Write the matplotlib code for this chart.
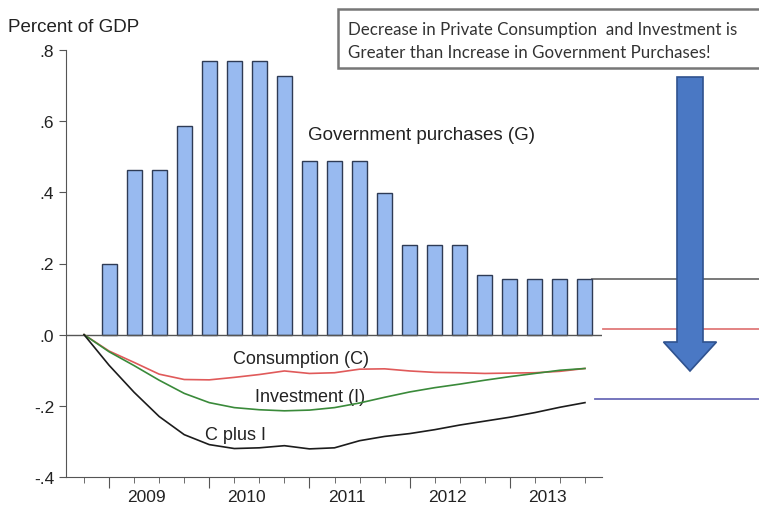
import numpy as np
import matplotlib.pyplot as plt
from matplotlib.patches import Rectangle, FancyArrow

# quarterly data, 2008Q4 = index 0 ... 2013Q4 = index 20
years = ["2009", "2010", "2011", "2012", "2013"]
gov = [0.198, 0.464, 0.464, 0.587,
       0.768, 0.768, 0.768, 0.727,
       0.487, 0.487, 0.487, 0.399,
       0.251, 0.251, 0.251, 0.167,
       0.156, 0.156, 0.156, 0.156]
cons = [0.0, -0.046, -0.078, -0.111, -0.126, -0.127, -0.120, -0.112, -0.102,
        -0.109, -0.107, -0.097, -0.096, -0.102, -0.106, -0.107, -0.109,
        -0.108, -0.107, -0.103, -0.095]
inv = [0.0, -0.048, -0.087, -0.128, -0.165, -0.191, -0.205, -0.211, -0.214,
       -0.212, -0.205, -0.192, -0.176, -0.161, -0.149, -0.139, -0.128,
       -0.118, -0.109, -0.100, -0.095]
cpi = [0.0, -0.086, -0.162, -0.230, -0.281, -0.309, -0.320, -0.318, -0.312,
       -0.321, -0.318, -0.298, -0.286, -0.278, -0.267, -0.254, -0.243,
       -0.232, -0.219, -0.204, -0.191]
yticks = [0.8, 0.6, 0.4, 0.2, 0.0, -0.2, -0.4]
ytick_labels = [".8", ".6", ".4", ".2", ".0", "-.2", "-.4"]
side_levels = [gov[-1], 0.017, -0.181]
side_colors = ["#6e6e6e", "#e07a7a", "#6a6ab8"]

plt.rcParams['font.family'] = ['Liberation Sans', 'DejaVu Sans']

fig = plt.figure(figsize=(7.59, 5.10), dpi=100)
ax = fig.add_axes([66/759, 1-478/510, (602-66)/759, (478-51)/510])

q = np.arange(len(cons))
ax.bar(q[1:], gov, width=0.6, color="#98baf0", edgecolor="#2e3b55", linewidth=1, zorder=2)
ax.axhline(0, color="#555555", lw=1, zorder=3)
ax.plot(q, cons, color="#e05a5a", lw=1.2, zorder=4)
ax.plot(q, inv, color="#3a8a3a", lw=1.2, zorder=4)
ax.plot(q, cpi, color="#1c1c1c", lw=1.2, zorder=4)

ax.set_xlim(-0.72, 20.68)
ax.set_ylim(-0.4, 0.8)
for s in ["top", "right"]:
    ax.spines[s].set_visible(False)
for s in ["left", "bottom"]:
    ax.spines[s].set_color("#555555")

ax.set_yticks(yticks)
ax.set_yticklabels(ytick_labels, fontsize=12.5, color="#222222")
ax.set_xticks(np.arange(1, 21, 4))
ax.set_xticks(q, minor=True)
ax.set_xticklabels([])
ax.tick_params(axis="x", which="major", length=8, color="#555555")
ax.tick_params(axis="x", which="minor", length=4, color="#555555")
ax.tick_params(axis="y", length=5, color="#555555")
for k, yr in enumerate(years):
    ax.text(2.5 + 4 * k, -0.045, yr, transform=ax.get_xaxis_transform(),
            ha="center", va="center", fontsize=12.5, color="#222222")

# series labels
ax.text(8.94, 0.562, "Government purchases (G)", fontsize=13.5, color="#222222", va="center")
ax.text(5.95, -0.068, "Consumption (C)", fontsize=13, color="#222222", va="center")
ax.text(6.83, -0.174, "Investment (I)", fontsize=13, color="#222222", va="center")
ax.text(4.83, -0.281, "C plus I", fontsize=13, color="#222222", va="center")

fig.text(8/759, 1-28/510, "Percent of GDP", fontsize=13.5, color="#222222", va="center")

# lines running off to the right
starts = [20.3, 20.7, 20.4]
for lev, c, x0 in zip(side_levels, side_colors, starts):
    ax.plot([x0, 30], [lev, lev], color=c, lw=1.3, clip_on=False, zorder=1)

# message box
fig.add_artist(Rectangle((338/759, 1-69/510), 0.6, 59/510, transform=fig.transFigure,
                         facecolor="white", edgecolor="#777777", lw=1.8))
fig.text(348/759, 1-30/510, "Decrease in Private Consumption  and Investment is",
         family=["Lato", "DejaVu Sans"], fontsize=12.2, color="#333333", va="center")
fig.text(348/759, 1-53/510, "Greater than Increase in Government Purchases!",
         family=["Lato", "DejaVu Sans"], fontsize=12.2, color="#333333", va="center")

# big arrow
fig.add_artist(FancyArrow(690/759, 1-78/510, 0, -(372-78)/510, width=26/759,
                          head_width=53/759, head_length=29/510, length_includes_head=True,
                          transform=fig.transFigure, facecolor="#4a78c4",
                          edgecolor="#2f528f", lw=1.2, zorder=5))

fig.savefig("out.png", dpi=100)
